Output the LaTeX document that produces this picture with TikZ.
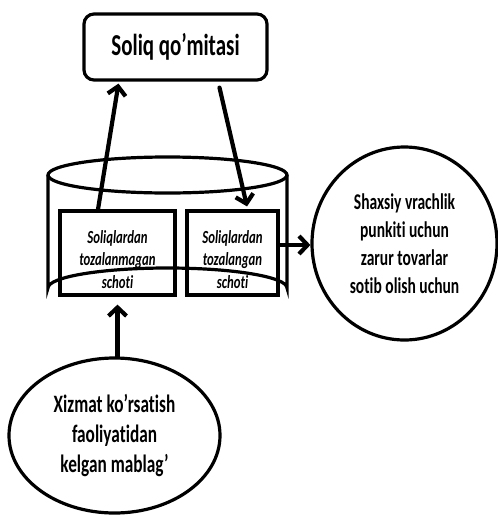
\documentclass[tikz,border=0pt]{standalone}
\usepackage{fontspec}
\setmainfont{Carlito}[FakeStretch=0.69, Ligatures=NoCommon]
\usetikzlibrary{arrows.meta,shapes.geometric}
\newcommand{\liftstrut}{\rule{0pt}{26pt}}
\begin{document}
\begin{tikzpicture}[x=1pt,y=-1pt,
  outline/.style={line width=3.2pt, draw=black},
  flow/.style={line width=4.2pt, line cap=round,
    -{Straight Barb[length=8.5pt,width=18pt,line width=4.2pt]}},
  acct/.style={outline, fill=white, rectangle, inner sep=0pt,
    font=\fontsize{18.5}{22.5}\selectfont\bfseries\itshape, align=center},
  bubble/.style={outline, ellipse, inner sep=0pt, align=center}]
  \useasboundingbox (0,0) rectangle (498,515);

  % tax committee
  \node[outline, rounded corners=10pt, minimum width=183pt, minimum height=66pt,
        font=\fontsize{30.4}{34}\selectfont\bfseries] (tax) at (175.5,47) {Soliq qo’mitasi};

  % the two accounts
  \node[acct, minimum width=115pt, minimum height=84pt] (leftacc) at (117.5,253)
    {\liftstrut Soliqlardan\\tozalanmagan\\schoti};
  \node[acct, minimum width=91pt, minimum height=84pt] (rightacc) at (232.5,253)
    {\liftstrut Soliqlardan\\tozalangan\\schoti};

  % cylinder holding the accounts
  \draw[outline] (48,175) -- (48,288) arc[start angle=180, end angle=360, x radius=119.5, y radius=20] -- (287,175);
  \draw[outline] (167.5,175) ellipse[x radius=119.5, y radius=18];

  % purpose of the cleared account
  \node[bubble, minimum width=185pt, minimum height=193pt,
        font=\fontsize{22.5}{28}\selectfont\bfseries] (shop) at (404.5,243.5)
    {Shaxsiy vrachlik\\punkiti uchun\\zarur tovarlar\\sotib olish uchun};

  % source of the funds
  \node[bubble, minimum width=211pt, minimum height=155pt,
        font=\fontsize{25}{30}\selectfont\bfseries] (income) at (114.5,435.5)
    {Xizmat ko’rsatish\\faoliyatidan\\kelgan mablag’};

  % flows
  \draw[flow] ([xshift=-19.5pt]leftacc.north) -- ([xshift=-57pt,yshift=-2pt]tax.south);
  \draw[flow] ([xshift=44pt,yshift=-6pt]tax.south) -- ([xshift=14.5pt,yshift=3pt]rightacc.north);
  \draw[flow] ([yshift=8pt]rightacc.east) -- ([yshift=8pt]rightacc.east -| shop.west);
  \draw[flow] (leftacc.south |- income.north) -- ([yshift=-8pt]leftacc.south);
\end{tikzpicture}
\end{document}
